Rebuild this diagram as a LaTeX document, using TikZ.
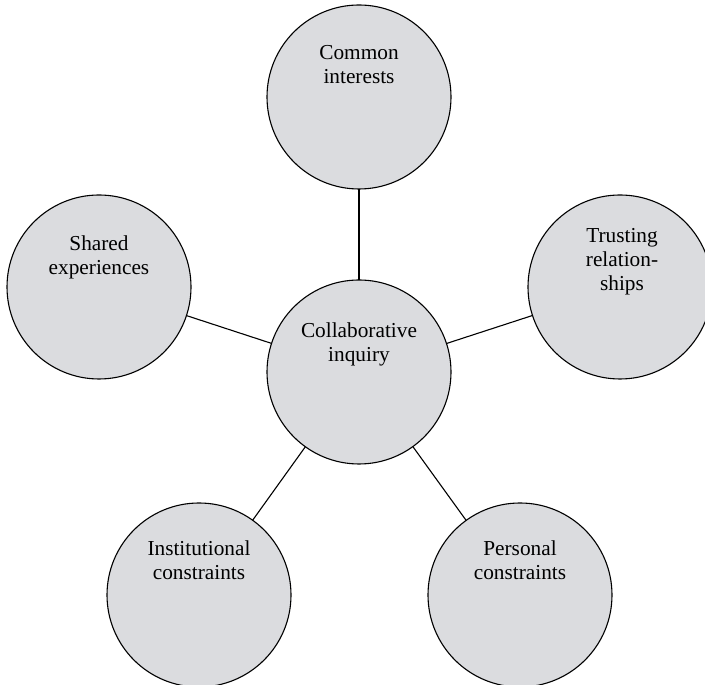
\documentclass[tikz,border=0pt]{standalone}
\usepackage{fontspec}
\setmainfont{Liberation Serif}
\usetikzlibrary{positioning}
\definecolor{bubblegray}{RGB}{219,220,223}
\tikzstyle{bubble} = [draw, circle, line width=1.1pt, fill=bubblegray,
 minimum size=184pt, inner sep=0pt, outer sep=0pt]
\tikzstyle{caption} = [align=center, anchor=north, inner sep=0pt,
 font=\fontsize{21.3}{24}\selectfont]
\tikzstyle{line} = [line width=1.1pt, -]

\begin{document}
\begin{tikzpicture}[x=1pt, y=1pt]

	\useasboundingbox (0,0) rectangle (705,685);

	\node [bubble] (inq) at (359,313) {};
	\node [bubble] (com) at (359,588) {};
	\node [bubble] (tru) at (620,398) {};
	\node [bubble] (sha) at (99,398) {};
	\node [bubble] (ins) at (199,90) {};
	\node [bubble] (per) at (520,90) {};

	\draw [line] (inq) -- (com);
	\draw [line] (inq) -- (tru);
	\draw [line] (inq) -- (sha);
	\draw [line] (inq) -- (ins);
	\draw [line] (inq) -- (per);

	\node [caption] (inqtxt) at ([yshift=49.5pt]inq.center) {Collaborative\\inquiry};
	\node [caption] (comtxt) at ([yshift=51.5pt]com.center) {Common\\interests};
	\node [caption] (trutxt) at ([xshift=2pt, yshift=58.5pt]tru.center) {Trusting\\relation-\\ships};
	\node [caption] (shatxt) at ([yshift=51.5pt]sha.center) {Shared\\experiences};
	\node [caption] (instxt) at ([yshift=54.5pt]ins.center) {Institutional\\constraints};
	\node [caption] (pertxt) at ([yshift=54.5pt]per.center) {Personal\\constraints};

\end{tikzpicture}
\end{document}
